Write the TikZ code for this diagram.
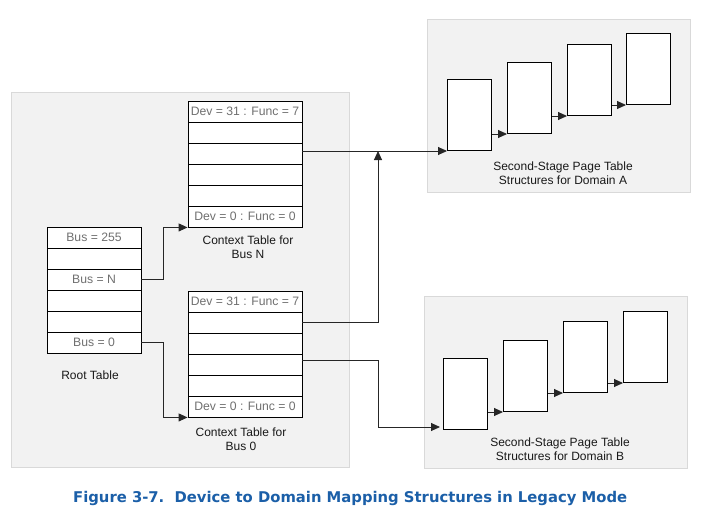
\documentclass[tikz,border=0pt]{standalone}
\usepackage{fontspec}
\setmainfont{Liberation Sans}
\newfontfamily\capfont{DejaVu Sans}
\usetikzlibrary{arrows.meta}

\definecolor{panelgray}{HTML}{F2F2F2}
\definecolor{panelline}{HTML}{D9D9D9}
\definecolor{celltext}{HTML}{707070}
\definecolor{capblue}{HTML}{1B5FA8}

\tikzset{
  cell/.style={draw=black, fill=white, line width=0.9pt, minimum width=114pt, minimum height=21pt,
    inner sep=0pt, text=celltext, font=\fontsize{12.2}{14}\selectfont},
  rootcell/.style={cell, minimum width=94pt},
  page/.style={draw=black, fill=white, line width=0.9pt, minimum width=44pt, minimum height=71pt,
    inner sep=0pt, anchor=south west},
  panel/.style={fill=panelgray, draw=panelline, line width=0.8pt},
  link/.style={draw=black!85, line width=0.9pt, -{Triangle[length=9pt,width=8pt]}},
  lbl/.style={font=\fontsize{12}{14}\selectfont, align=center, inner sep=0pt, text=black!90}
}

\begin{document}
\begin{tikzpicture}[x=1pt, y=-1pt]
\useasboundingbox (0,0) rectangle (702,519);

% grey panels
\draw[panel] (11,92) rectangle (349,467);
\draw[panel] (427,19) rectangle (690,192);
\draw[panel] (424,296) rectangle (687,468);

% root table
\foreach \i/\t in {1/{Bus = 255}, 2/{}, 3/{Bus = N}, 4/{}, 5/{}, 6/{Bus = 0}}
  \node[rootcell] (r\i) at (94,216.5+21*\i) {\t};
\node[lbl] (rootlbl) at (90,375) {Root Table};

% context tables
\foreach \i/\t in {1/{Dev = 31 : Func = 7}, 2/{}, 3/{}, 4/{}, 5/{}, 6/{Dev = 0 : Func = 0}} {
  \node[cell] (n\i) at (245,90.5+21*\i) {\t};
  \node[cell] (z\i) at (245,280.5+21*\i) {\t};
}
\node[lbl] (nlbl) at (248,247) {Context Table for\\Bus N};
\node[lbl] (zlbl) at (241,439) {Context Table for\\Bus 0};

% page table structures
\node[page] (a1) at (447,151) {};
\node[page] (a2) at (507,134) {};
\node[page] (a3) at (567,116) {};
\node[page] (a4) at (626,105) {};
\node[page] (b1) at (443,430) {};
\node[page] (b2) at (503,412) {};
\node[page] (b3) at (563,393) {};
\node[page] (b4) at (623,383) {};
\node[lbl] (albl) at (563,173) {Second-Stage Page Table\\Structures for Domain A};
\node[lbl] (blbl) at (560,449) {Second-Stage Page Table\\Structures for Domain B};

\foreach \s/\d in {a1/a2, a2/a3, a3/a4, b1/b2, b2/b3, b3/b4}
  \draw[link] (\s.east |- \d.south) -- (\d.south west);

% root -> context
\draw[link] (r3.east) -- ++(22,0) |- (n6.south west);
\draw[link] (r6.east) -- ++(22,0) |- (z6.south west);

% context -> domains
\coordinate (joinA) at (378,151);
\coordinate (joinB) at (378,360);
\draw[link] ([yshift=2.5pt]n3.east) -- (a1.south west);
\draw[link] (z2.east) -| (joinA);
\draw[link] ([yshift=4.5pt]z4.east) -- (joinB) |- ([xshift=-3pt,yshift=3pt]b1.south west);

% caption
\node[anchor=west, inner sep=0pt, text=capblue, font=\capfont\bfseries\fontsize{14.8}{17}\selectfont]
  (cap) at (73,498) {Figure 3-7.\ \ Device to Domain Mapping Structures in Legacy Mode};
\end{tikzpicture}
\end{document}
